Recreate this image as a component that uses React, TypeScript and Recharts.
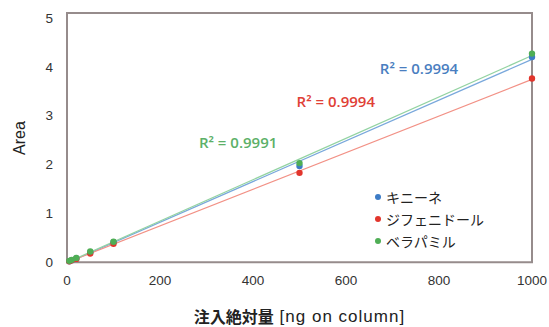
import React from "react";
import {
  ComposedChart,
  Scatter,
  Line,
  XAxis,
  YAxis,
  ZAxis,
  Label,
  ReferenceArea,
  ReferenceDot,
} from "recharts";

// 注入量 (ng on column)
const amounts = [5, 10, 20, 50, 100, 500, 1000];
const quinine = [0.02, 0.04, 0.08, 0.2, 0.41, 1.97, 4.2];
const difenidol = [0.02, 0.04, 0.07, 0.18, 0.38, 1.83, 3.76];
const verapamil = [0.03, 0.05, 0.09, 0.22, 0.42, 2.03, 4.27];

const seriesNames = ["キニーネ", "ジフェニドール", "ベラパミル"];
const r2Labels = ["R² = 0.9994", "R² = 0.9994", "R² = 0.9991"];
const xTicks = [0, 200, 400, 600, 800, 1000];
const yTicks = [0, 1, 2, 3, 4, 5];

const pointColors = ["#3d7cc6", "#e2352c", "#4fae55"];
const lineColors = ["#79a8dc", "#f29186", "#93d3a2"];
const textColors = ["#4a7ec0", "#e04036", "#5cb068"];

const toPoints = (ys: number[]) => amounts.map((x, i) => ({ x, y: ys[i] }));

// linear least squares trendline, same as Excel's trendline
function trend(ys: number[]) {
  const n = amounts.length;
  const mx = amounts.reduce((a, b) => a + b, 0) / n;
  const my = ys.reduce((a, b) => a + b, 0) / n;
  let sxy = 0;
  let sxx = 0;
  amounts.forEach((x, i) => {
    sxy += (x - mx) * (ys[i] - my);
    sxx += (x - mx) * (x - mx);
  });
  const m = sxy / sxx;
  const b = my - m * mx;
  return [0, 1000].map((x) => ({ x, y: m * x + b }));
}

const allSeries = [quinine, difenidol, verapamil];

// where the R² texts sit, in data units
const r2Pos = [
  { x: 757, y: 3.96 },
  { x: 578, y: 3.29 },
  { x: 368, y: 2.45 },
];

const tickStyle = { fontSize: 13.5, fill: "#333", fontFamily: "Liberation Sans, Arial, sans-serif" };

function LegendBox() {
  return (
    <div
      style={{
        position: "absolute",
        left: 375,
        top: 186,
        fontFamily: "Noto Sans CJK JP, sans-serif",
        fontSize: 14,
        color: "#222",
        lineHeight: "22px",
      }}
    >
      {seriesNames.map((name, i) => (
        <div key={name} style={{ display: "flex", alignItems: "center" }}>
          <span
            style={{
              width: 6,
              height: 6,
              borderRadius: 3,
              background: pointColors[i],
              display: "inline-block",
              marginRight: 5,
            }}
          />
          {name}
        </div>
      ))}
    </div>
  );
}

export default function App() {
  return (
    <div style={{ position: "absolute", left: 0, top: 0, width: 549, height: 327, background: "#fff" }}>
      <ComposedChart width={549} height={327} margin={{ top: 13, right: 17, left: 0, bottom: 0 }}>
        <ReferenceArea x1={0} x2={1000} y1={0} y2={5.1} fill="none" stroke="#968c8c" strokeWidth={2} />
        <XAxis
          type="number"
          dataKey="x"
          domain={[0, 1000]}
          ticks={xTicks}
          axisLine={false}
          tickLine={false}
          tick={tickStyle}
          tickMargin={6}
          height={64}
        >
          <Label
            content={(props: any) => {
              const vb = props.viewBox || {};
              const cx = vb.x + vb.width / 2;
              const cy = vb.y + vb.height - 11;
              return (
                <text
                  x={cx}
                  y={cy}
                  textAnchor="middle"
                  dominantBaseline="central"
                  style={{ fontSize: 16, fill: "#222", fontFamily: "Liberation Sans, Arial, sans-serif" }}
                >
                  <tspan style={{ fontWeight: "bold", fontFamily: "Noto Sans CJK JP, sans-serif" }}>注入絶対量</tspan>
                  <tspan style={{ fontSize: 17, letterSpacing: 1 }}> [ng on column]</tspan>
                </text>
              );
            }}
          />
        </XAxis>
        <YAxis
          type="number"
          dataKey="y"
          domain={[0, 5.1]}
          ticks={yTicks}
          axisLine={false}
          tickLine={false}
          tick={tickStyle}
          tickMargin={8}
          width={67}
        >
          <Label
            content={(props: any) => {
              const vb = props.viewBox || {};
              const cx = vb.x + 19;
              const cy = vb.y + vb.height / 2;
              return (
                <text
                  x={cx}
                  y={cy}
                  transform={`rotate(-90 ${cx} ${cy})`}
                  textAnchor="middle"
                  dominantBaseline="central"
                  style={{ fontSize: 16, fill: "#222", fontFamily: "Liberation Sans, Arial, sans-serif" }}
                >
                  Area
                </text>
              );
            }}
          />
        </YAxis>
        <ZAxis range={[32, 32]} />
        {allSeries.map((ys, i) => (
          <Line
            key={"t" + i}
            data={trend(ys)}
            dataKey="y"
            stroke={lineColors[i]}
            strokeWidth={1.2}
            dot={false}
            activeDot={false}
            legendType="none"
            isAnimationActive={false}
          />
        ))}
        {allSeries.map((ys, i) => (
          <Scatter
            key={seriesNames[i]}
            name={seriesNames[i]}
            data={toPoints(ys)}
            fill={pointColors[i]}
            isAnimationActive={false}
          />
        ))}
        {r2Pos.map((p, i) => (
          <ReferenceDot
            key={"r" + i}
            x={p.x}
            y={p.y}
            r={0}
            stroke="none"
            label={{
              value: r2Labels[i],
              position: "center",
              fill: textColors[i],
              fontSize: 15,
              fontWeight: 600,
              fontFamily: "Open Sans, sans-serif",
            }}
          />
        ))}
      </ComposedChart>
      <LegendBox />
    </div>
  );
}
